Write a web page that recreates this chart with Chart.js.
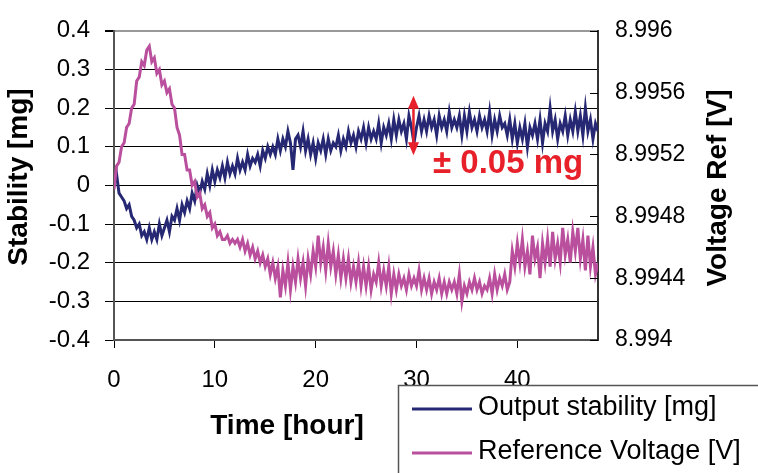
<!DOCTYPE html>
<html><head><meta charset="utf-8">
<script src="https://cdn.jsdelivr.net/npm/chart.js@4.4.0/dist/chart.umd.min.js"></script>
<style>html,body{margin:0;padding:0;background:#fff;}#wrap{width:758px;height:473px;position:relative;}</style>
</head><body><div id="wrap"><canvas id="c" width="758" height="473"></canvas></div>
<script>
const hours = [
0,0.25,0.5,0.75,1,1.25,1.5,1.75,2,2.25,2.5,2.75,3,3.25,3.5,3.75,4,4.25,4.5,4.75,
5,5.25,5.5,5.75,6,6.25,6.5,6.75,7,7.25,7.5,7.75,8,8.25,8.5,8.75,9,9.25,9.5,9.75,
10,10.25,10.5,10.75,11,11.25,11.5,11.75,12,12.25,12.5,12.75,13,13.25,13.5,13.75,14,14.25,14.5,14.75,
15,15.25,15.5,15.75,16,16.25,16.5,16.75,17,17.25,17.5,17.75,18,18.25,18.5,18.75,19,19.25,19.5,19.75,
20,20.25,20.5,20.75,21,21.25,21.5,21.75,22,22.25,22.5,22.75,23,23.25,23.5,23.75,24,24.25,24.5,24.75,
25,25.25,25.5,25.75,26,26.25,26.5,26.75,27,27.25,27.5,27.75,28,28.25,28.5,28.75,29,29.25,29.5,29.75,
30,30.25,30.5,30.75,31,31.25,31.5,31.75,32,32.25,32.5,32.75,33,33.25,33.5,33.75,34,34.25,34.5,34.75,
35,35.25,35.5,35.75,36,36.25,36.5,36.75,37,37.25,37.5,37.75,38,38.25,38.5,38.75,39,39.25,39.5,39.75,
40,40.25,40.5,40.75,41,41.25,41.5,41.75,42,42.25,42.5,42.75,43,43.25,43.5,43.75,44,44.25,44.5,44.75,
45,45.25,45.5,45.75,46,46.25,46.5,46.75,47,47.25,47.5,47.75,48];

const outputStability = [
0.00,0.03,-0.02,-0.03, -0.04,-0.06,-0.05,-0.08, -0.09,-0.11,-0.10,-0.13, -0.12,-0.14,-0.11,-0.14, -0.12,-0.14,-0.10,-0.13,
-0.11,-0.09,-0.12,-0.08, -0.09,-0.06,-0.09,-0.05, -0.07,-0.04,-0.06,-0.02, -0.04,0.00,-0.02,0.01, -0.01,0.03,0.00,0.04,
0.01,0.04,0.02,0.05, 0.02,0.06,0.03,0.05, 0.03,0.07,0.04,0.06, 0.04,0.08,0.05,0.07, 0.06,0.08,0.05,0.09,
0.07,0.10,0.08,0.10, 0.08,0.12,0.09,0.12, 0.10,0.14,0.11,0.04, 0.12,0.13,0.10,0.14, 0.09,0.12,0.08,0.11,
0.07,0.11,0.09,0.12, 0.08,0.12,0.09,0.11, 0.10,0.13,0.09,0.12, 0.10,0.14,0.11,0.13, 0.10,0.14,0.12,0.15,
0.11,0.15,0.12,0.14, 0.12,0.16,0.11,0.15, 0.13,0.16,0.12,0.17, 0.13,0.17,0.14,0.16, 0.12,0.18,0.15,0.11,
0.15,0.18,0.14,0.17, 0.14,0.18,0.15,0.17, 0.13,0.18,0.15,0.17, 0.14,0.19,0.15,0.17, 0.15,0.18,0.13,0.18,
0.14,0.19,0.15,0.17, 0.14,0.18,0.15,0.17, 0.14,0.19,0.13,0.17, 0.14,0.18,0.15,0.16, 0.13,0.17,0.12,0.16,
0.11,0.15,0.12,0.16, 0.10,0.15,0.13,0.16, 0.12,0.17,0.11,0.16, 0.14,0.20,0.14,0.17, 0.12,0.16,0.14,0.18,
0.13,0.17,0.14,0.19, 0.14,0.18,0.13,0.20, 0.14,0.17,0.12,0.16, 0.14];

const referenceVoltage = [
8.994975,8.995125,8.99515,8.99525, 8.995275,8.995375,8.9954,8.9955, 8.995525,8.995675,8.9957,8.9958, 8.995775,8.995875,8.9959,8.9958, 8.995825,8.995725,8.99575,8.99565,
8.995675,8.9956,8.995625,8.995525, 8.9955,8.995375,8.995325,8.9952, 8.9952,8.9951,8.9951,8.995, 8.995025,8.994925,8.99495,8.99485, 8.994875,8.9948,8.994825,8.994725,
8.99475,8.994675,8.9947,8.99465, 8.99465,8.994675,8.994625,8.99465, 8.994625,8.99465,8.9946,8.99465, 8.994575,8.994625,8.99455,8.9946, 8.994525,8.994575,8.9945,8.99455,
8.994475,8.994525,8.994425,8.9945, 8.9944,8.994475,8.994275,8.99445, 8.99435,8.9945,8.994325,8.994475, 8.994375,8.994525,8.9944,8.9945, 8.99435,8.994525,8.994425,8.994575,
8.994475,8.994675,8.9945,8.9946, 8.99445,8.994625,8.994475,8.994575, 8.994425,8.99455,8.9944,8.994525, 8.9944,8.994525,8.994375,8.994475, 8.994375,8.9945,8.99435,8.994475,
8.99435,8.994475,8.994325,8.994425, 8.994375,8.9945,8.99435,8.99445, 8.99435,8.994475,8.9943,8.994425, 8.994325,8.994425,8.99435,8.9944, 8.994325,8.994425,8.99435,8.9944,
8.99435,8.99445,8.994325,8.9944, 8.994325,8.9944,8.9943,8.994375, 8.994325,8.9944,8.9943,8.994375, 8.9943,8.994375,8.994325,8.994375, 8.9943,8.994425,8.99425,8.99435,
8.9943,8.994375,8.994325,8.9944, 8.994325,8.994375,8.9943,8.99435, 8.994325,8.9944,8.9943,8.994425, 8.994325,8.9944,8.99435,8.994425, 8.994325,8.994375,8.994575,8.994475,
8.994625,8.9945,8.99465,8.994475, 8.994575,8.994425,8.994675,8.994525, 8.9946,8.9944,8.994625,8.9945, 8.99465,8.994475,8.9947,8.994525, 8.994625,8.9945,8.994725,8.99455,
8.99465,8.9945,8.9947,8.994575, 8.994725,8.994525,8.99465,8.99445, 8.994675,8.994475,8.9946,8.994425, 8.9945];

const xTicks = [0,10,20,30,40];
const leftTicks = [-0.4,-0.3,-0.2,-0.1,0,0.1,0.2,0.3,0.4];
const rightTicks = [8.994,8.9944,8.9948,8.9952,8.9956,8.996];
const seriesNames = ['Output stability [mg]','Reference Voltage [V]'];
const axisTitles = {x:'Time [hour]', left:'Stability [mg]', right:'Voltage Ref [V]'};
const annotationText = '\u00B1 0.05 mg';

const NAVY = '#262873', PINK = '#B94F9D', RED = '#E8202A';
const FONT = '"Liberation Sans", Arial, Helvetica, sans-serif';

const setTicks = arr => scale => { scale.ticks = arr.map(v => ({value: v})); };

const decor = {
  id: 'decor',
  afterDraw(chart) {
    const ctx = chart.ctx, ca = chart.chartArea;
    const sx = chart.scales.x, sy = chart.scales.y, sr = chart.scales.yR;
    ctx.save();
    ctx.strokeStyle = '#000'; ctx.lineWidth = 1;
    rightTicks.forEach(v => {
      const y = Math.round(sr.getPixelForValue(v)) + 0.5;
      ctx.beginPath(); ctx.moveTo(ca.right - 8, y); ctx.lineTo(ca.right, y); ctx.stroke();
    });
    const ax = sx.getPixelForValue(29.7);
    const y1 = sy.getPixelForValue(0.232), y2 = sy.getPixelForValue(0.078);
    ctx.strokeStyle = RED; ctx.fillStyle = RED; ctx.lineWidth = 2.5;
    ctx.beginPath(); ctx.moveTo(ax, y1 + 10); ctx.lineTo(ax, y2 - 10); ctx.stroke();
    ctx.beginPath(); ctx.moveTo(ax, y1); ctx.lineTo(ax - 5.5, y1 + 13); ctx.lineTo(ax + 5.5, y1 + 13); ctx.closePath(); ctx.fill();
    ctx.beginPath(); ctx.moveTo(ax, y2); ctx.lineTo(ax - 5.5, y2 - 13); ctx.lineTo(ax + 5.5, y2 - 13); ctx.closePath(); ctx.fill();
    ctx.font = 'bold 33px ' + FONT; ctx.textAlign = 'left'; ctx.textBaseline = 'alphabetic';
    ctx.fillText(annotationText, 433, 173);
    ctx.fillStyle = '#000'; ctx.font = 'bold 28px ' + FONT;
    ctx.textAlign = 'center'; ctx.textBaseline = 'middle';
    ctx.fillText(axisTitles.x, 287, 426);
    ctx.save(); ctx.translate(19, 177); ctx.rotate(-Math.PI / 2); ctx.fillText(axisTitles.left, 0, 0); ctx.restore();
    ctx.save(); ctx.translate(718, 188); ctx.rotate(-Math.PI / 2); ctx.fillText(axisTitles.right, 0, 0); ctx.restore();
    ctx.fillStyle = '#fff'; ctx.fillRect(398, 386, 362, 90);
    ctx.strokeStyle = '#555'; ctx.lineWidth = 1.5;
    ctx.beginPath(); ctx.moveTo(398.5, 475); ctx.lineTo(398.5, 385.5); ctx.lineTo(760, 385.5); ctx.stroke();
    const rows = [[NAVY, 409], [PINK, 453]];
    ctx.font = '27px ' + FONT; ctx.textAlign = 'left'; ctx.textBaseline = 'middle';
    rows.forEach((r, i) => {
      ctx.strokeStyle = r[0]; ctx.lineWidth = 3;
      ctx.beginPath(); ctx.moveTo(412, r[1]); ctx.lineTo(472, r[1]); ctx.stroke();
      ctx.fillStyle = '#000'; ctx.fillText(seriesNames[i], 478, r[1] - 1);
    });
    ctx.restore();
  }
};

new Chart(document.getElementById('c'), {
  type: 'line',
  data: {
    labels: hours,
    datasets: [
      { label: seriesNames[0], data: hours.map((h, i) => ({x: h, y: outputStability[i]})), yAxisID: 'y',
        borderColor: NAVY, borderWidth: 3, pointRadius: 0, tension: 0, order: 1 },
      { label: seriesNames[1], data: hours.map((h, i) => ({x: h, y: referenceVoltage[i]})), yAxisID: 'yR',
        borderColor: PINK, borderWidth: 3, pointRadius: 0, tension: 0, order: 0 }
    ]
  },
  options: {
    responsive: false, animation: false, devicePixelRatio: 1,
    layout: { padding: { top: 19, left: 0, right: 0, bottom: 0 } },
    plugins: { legend: { display: false }, tooltip: { enabled: false } },
    scales: {
      x: {
        type: 'linear', min: 0, max: 48,
        afterBuildTicks: setTicks(xTicks),
        afterFit: s => { s.height = 133; },
        grid: { drawOnChartArea: false, drawTicks: true, tickLength: 8, tickColor: '#000' },
        border: { display: true, color: '#555', width: 2 },
        ticks: { color: '#000', font: { family: FONT, size: 24 }, padding: 18, maxRotation: 0, autoSkip: false }
      },
      y: {
        position: 'left', min: -0.4, max: 0.4,
        afterBuildTicks: setTicks(leftTicks),
        afterFit: s => { s.width = 114; },
        grid: {
          color: c => (c.tick && Math.abs(c.tick.value - 0.4) < 1e-9) ? '#999' : (c.tick && Math.abs(c.tick.value + 0.4) < 1e-9 ? 'rgba(0,0,0,0)' : '#000'),
          lineWidth: c => (c.tick && Math.abs(c.tick.value - 0.4) < 1e-9) ? 2 : 1,
          tickColor: '#000', tickLength: 9, drawTicks: true
        },
        border: { display: true, color: '#555', width: 2 },
        ticks: { color: '#000', font: { family: FONT, size: 24 }, padding: 15,
          callback: v => String(Math.round(v * 10) / 10) }
      },
      yR: {
        position: 'right', min: 8.994, max: 8.996,
        afterBuildTicks: setTicks(rightTicks),
        afterFit: s => { s.width = 160; },
        grid: { drawOnChartArea: false, drawTicks: false },
        border: { display: true, color: '#333', width: 2 },
        ticks: { color: '#000', font: { family: FONT, size: 23 }, padding: 17,
          callback: v => String(Number(v.toFixed(4))) }
      }
    }
  },
  plugins: [decor]
});
</script>
</body></html>
